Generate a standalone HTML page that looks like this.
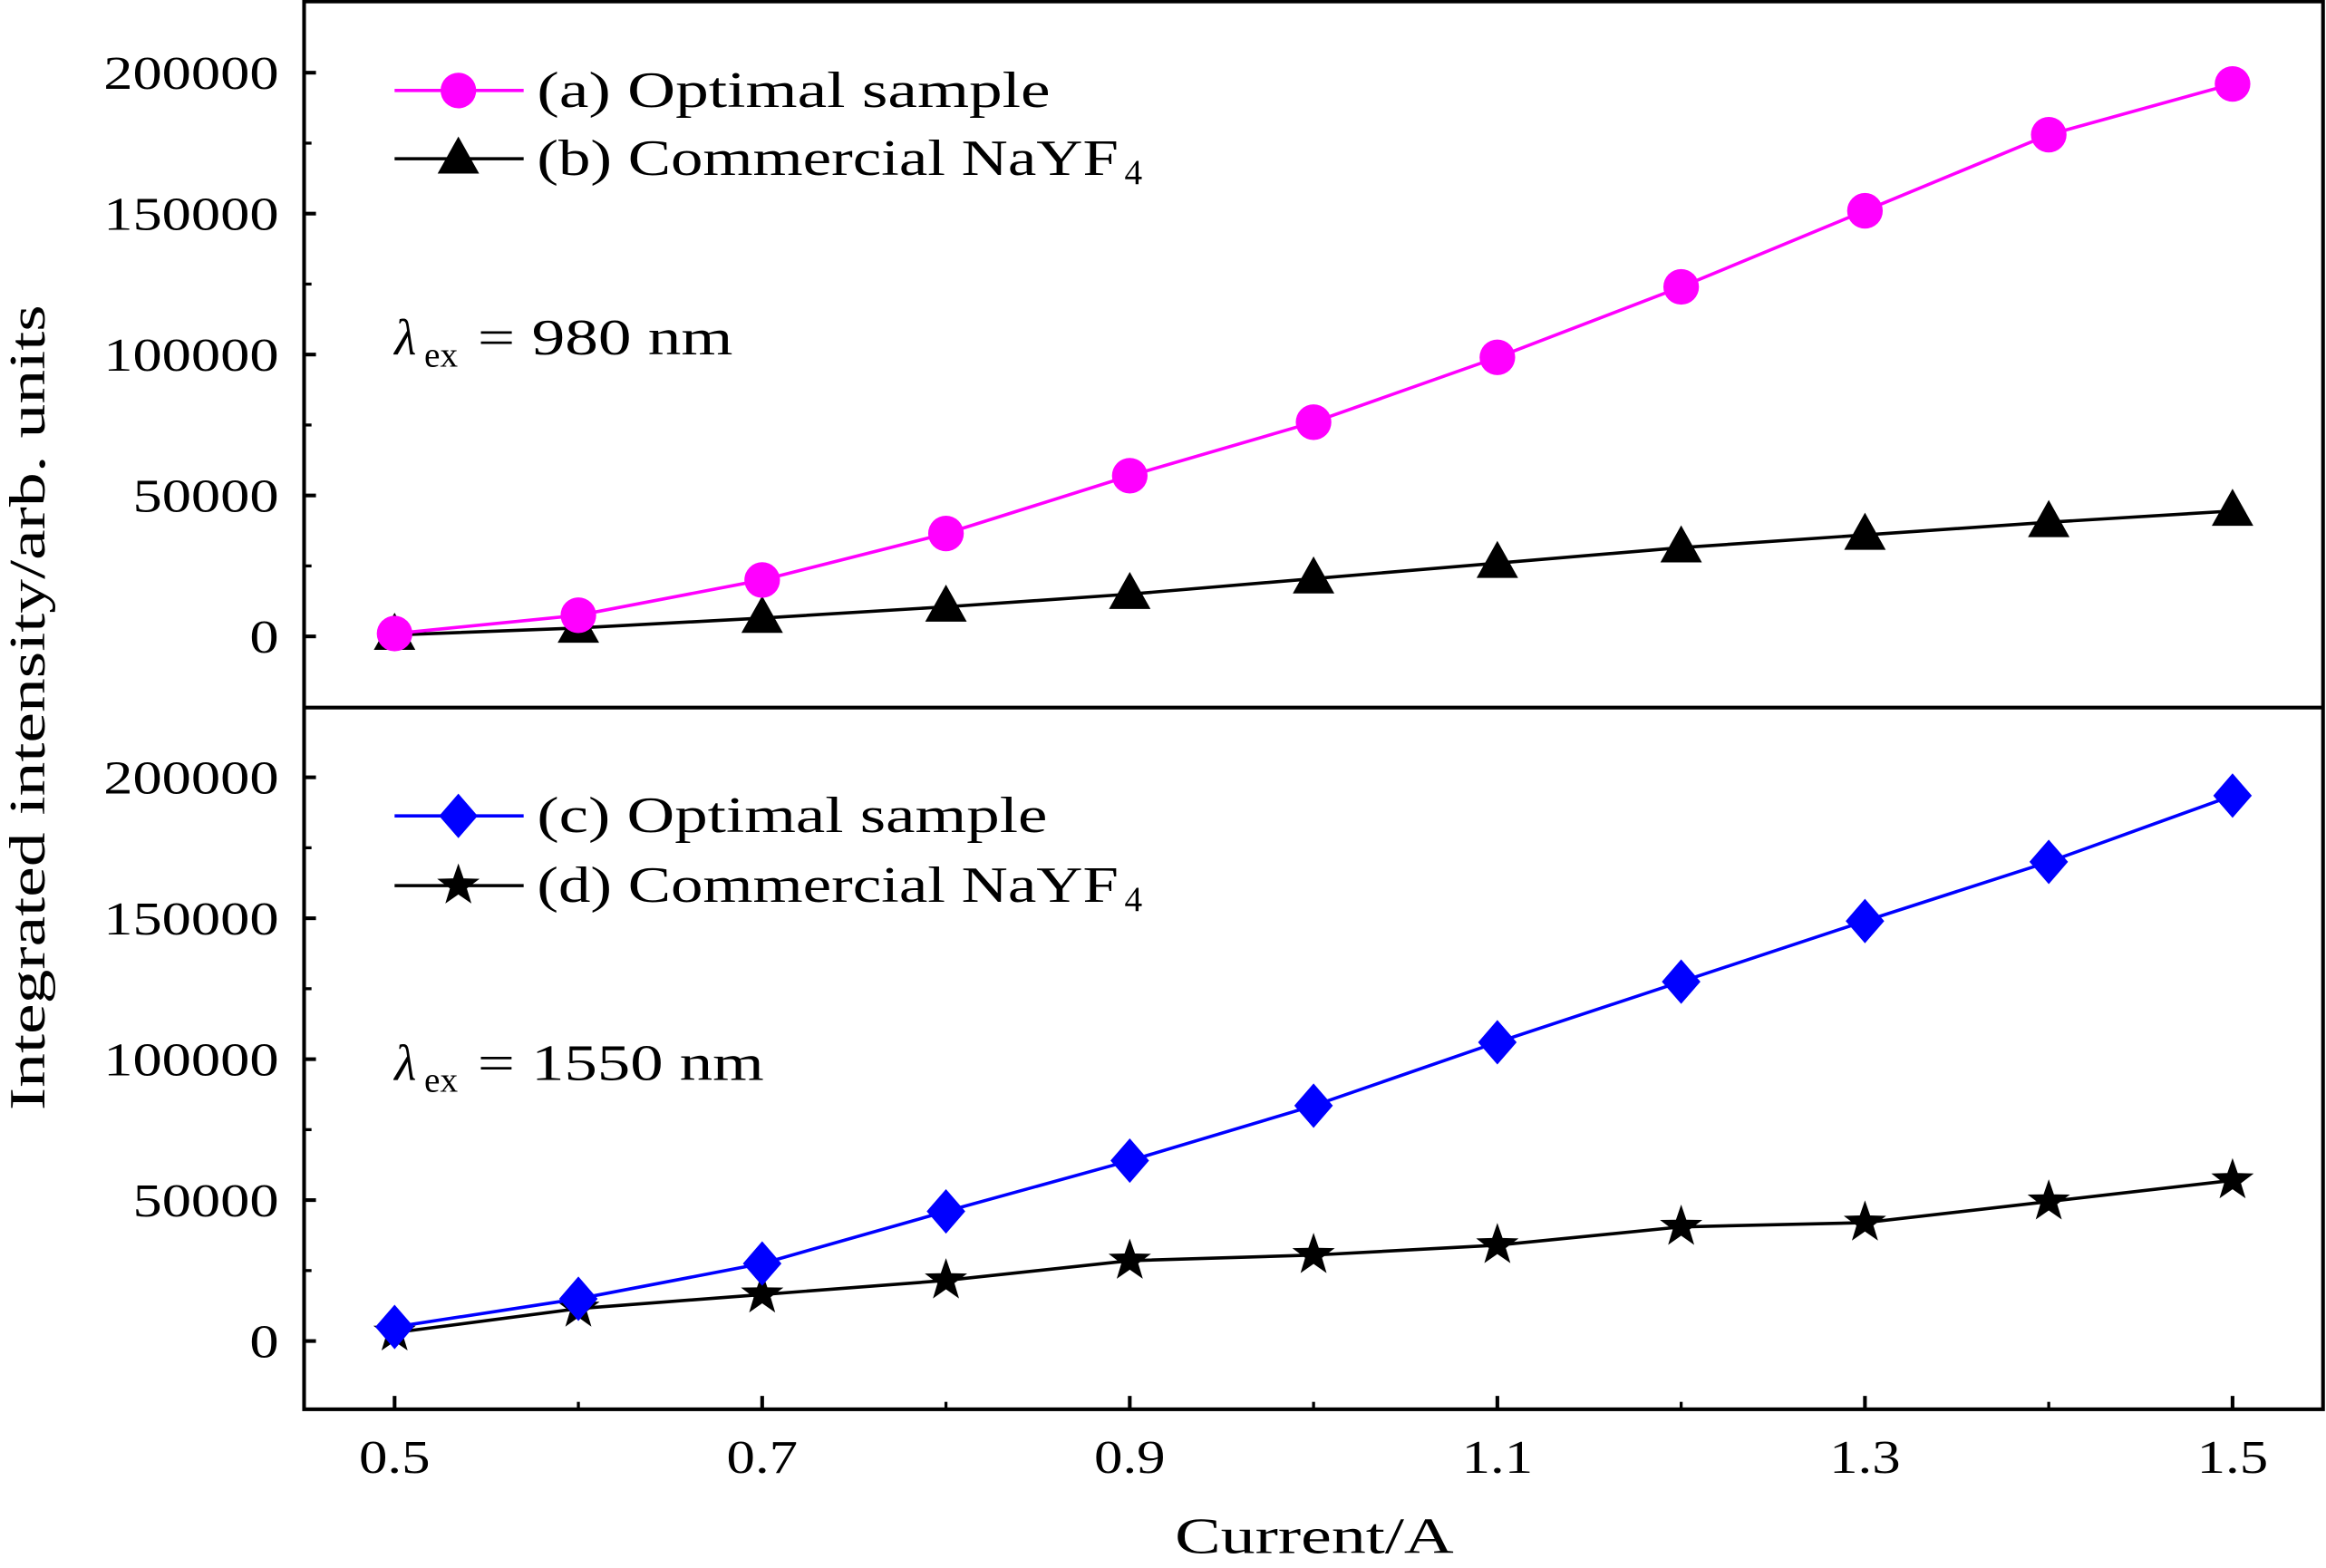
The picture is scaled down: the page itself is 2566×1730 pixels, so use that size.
<!DOCTYPE html>
<html><head><meta charset="utf-8"><style>
html,body{margin:0;padding:0;background:#fff;}
svg{display:block;font-family:"Liberation Serif",serif;}
</style></head><body>
<svg id="chart" width="2566" height="1730" viewBox="0 0 1568 1057" preserveAspectRatio="none" xmlns="http://www.w3.org/2000/svg">
<g id="root"></g>
</svg>
<script>
const currents = [0.5,0.6,0.7,0.8,0.9,1.0,1.1,1.2,1.3,1.4,1.5];
const seriesA = [1000,7500,20000,36500,57000,76000,99000,124000,151000,178000,196000];
const seriesB = [500,3000,6500,10500,15000,20500,26000,31500,36000,40500,44500];
const seriesC = [5000,15000,27500,46000,64000,83500,106000,127500,149000,170000,193500];
const seriesD = [3000,11500,16500,21500,28500,30500,34000,40500,42000,49500,57000];
const yTicks = [0,50000,100000,150000,200000];
const xTicks = [0.5,0.7,0.9,1.1,1.3,1.5];
const xMinor = [0.6,0.8,1.0,1.2,1.4];

const NS="http://www.w3.org/2000/svg";
const root=document.getElementById('root');
function mk(tag,attrs,parent){const e=document.createElementNS(NS,tag);for(const k in attrs)e.setAttribute(k,attrs[k]);(parent||root).appendChild(e);return e;}
const L=205,R=1566;
const xS=v=>266+(v-0.5)*1239;
const yTop=v=>429-v*(380/200000);
const yBot=v=>904-v*(380/200000);

const frame=mk('rect',{x:L,y:1,width:R-L,height:949,fill:'none',stroke:'#000','stroke-width':2.5});


const div=mk('line',{x1:L,x2:R,y1:477,y2:477,stroke:'#000','stroke-width':2.5});



function yAxis(ys,name){
  const g=mk('g',{});
  
  
  yTicks.forEach(v=>{
    mk('line',{x1:L,x2:L+8,y1:ys(v),y2:ys(v),stroke:'#000','stroke-width':2.5},g);
    const s=String(v);
    const t=mk('text',{x:188,y:ys(v)+11,'text-anchor':'end','font-size':32,textLength:s.length*19.7,lengthAdjust:'spacingAndGlyphs'},g);
    t.textContent=s;
    
    
  });
  yTicks.slice(0,-1).forEach(v=>{
    const m=v+25000;
    mk('line',{x1:L,x2:L+5,y1:ys(m),y2:ys(m),stroke:'#000','stroke-width':2},g);
  });
}
yAxis(yTop,'y-axis-top');
yAxis(yBot,'y-axis-bottom');

const xg=mk('g',{});


xTicks.forEach(v=>{
  mk('line',{x1:xS(v),x2:xS(v),y1:950,y2:941,stroke:'#000','stroke-width':2.5},xg);
  const t=mk('text',{x:xS(v),y:993,'text-anchor':'middle','font-size':32,textLength:48,lengthAdjust:'spacingAndGlyphs'},xg);
  t.textContent=v.toFixed(1);
  
  
});
xMinor.forEach(v=>{
  mk('line',{x1:xS(v),x2:xS(v),y1:950,y2:945,stroke:'#000','stroke-width':2},xg);
});

const xt=mk('text',{x:886,y:1047,'text-anchor':'middle','font-size':34,textLength:188,lengthAdjust:'spacingAndGlyphs'});
xt.textContent='Current/A';


const yt=mk('text',{x:0,y:0,'text-anchor':'middle','font-size':34,textLength:543,lengthAdjust:'spacingAndGlyphs',transform:'translate(30,477) rotate(-90)'});
yt.textContent='Integrated intensity/arb. units';



function marker(kind,x,y,color,g){
  if(kind==='circle') return mk('circle',{cx:x,cy:y,r:12,fill:color},g);
  if(kind==='tri') return mk('polygon',{points:`${x},${y-15} ${x-14},${y+10} ${x+14},${y+10}`,fill:color},g);
  if(kind==='diamond') return mk('polygon',{points:`${x},${y-15} ${x+13},${y} ${x},${y+15} ${x-13},${y}`,fill:color},g);
  if(kind==='star'){let p=[];for(let i=0;i<10;i++){const r=i%2?6:15;const a=-Math.PI/2+i*Math.PI/5;p.push((x+r*Math.cos(a)).toFixed(1)+','+(y+r*Math.sin(a)).toFixed(1));}return mk('polygon',{points:p.join(' '),fill:color},g);}
}
function series(vals,ys,color,kind,name){
  const g=mk('g',{});
  
  
  mk('polyline',{points:vals.map((v,i)=>xS(currents[i])+','+ys(v)).join(' '),fill:'none',stroke:color,'stroke-width':2.2},g);
  vals.forEach((v,i)=>{const m=marker(kind,xS(currents[i]),ys(v),color,g);
    
    });
}
series(seriesB,yTop,'#000','tri','series-b-commercial');
series(seriesA,yTop,'#ff00ff','circle','series-a-optimal');
series(seriesD,yBot,'#000','star','series-d-commercial');
series(seriesC,yBot,'#0000ff','diamond','series-c-optimal');

function legend(y,color,kind,label,len,name){
  const g=mk('g',{});
  
  
  mk('line',{x1:266,x2:353,y1:y,y2:y,stroke:color,'stroke-width':2.2},g);
  marker(kind,309,y,color,g);
  const t=mk('text',{x:362,y:y+11,'font-size':34,textLength:len,lengthAdjust:'spacingAndGlyphs'},g);
  t.textContent=label;
  return g;
}
legend(61,'#ff00ff','circle','(a) Optimal sample',346,'legend-entry-a');
let gb=legend(107,'#000','tri','(b) Commercial NaYF',392,'legend-entry-b');
mk('text',{x:758,y:124,'font-size':24},gb).textContent='4';
legend(550,'#0000ff','diamond','(c) Optimal sample',344,'legend-entry-c');
let gd=legend(597,'#000','star','(d) Commercial NaYF',392,'legend-entry-d');
mk('text',{x:758,y:614,'font-size':24},gd).textContent='4';

function lam(y,txt,len,name){
  const g=mk('g',{});
  
  
  mk('text',{x:266,y:y,'font-size':34,'font-style':'italic'},g).textContent='λ';
  mk('text',{x:286,y:y+8,'font-size':24},g).textContent='ex';
  const t=mk('text',{x:322,y:y,'font-size':34,textLength:len,lengthAdjust:'spacingAndGlyphs'},g);
  t.textContent='= '+txt;
}
lam(239,'980 nm',172,'excitation-label-top');
lam(728,'1550 nm',193,'excitation-label-bottom');
</script>
</body></html>
